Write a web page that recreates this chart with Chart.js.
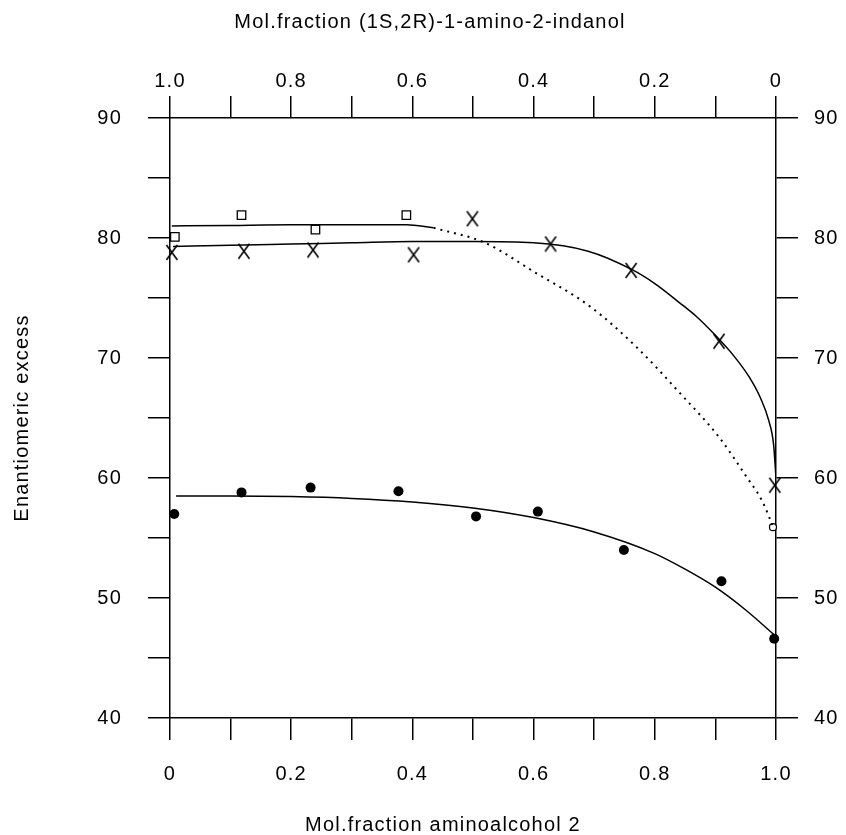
<!DOCTYPE html>
<html>
<head>
<meta charset="utf-8">
<script src="https://cdn.jsdelivr.net/npm/chart.js@4.4.1/dist/chart.umd.min.js"></script>
<style>
    html, body { margin: 0; padding: 0; background: #fff; }
</style>
</head>
<body>
<canvas id="chart" width="846" height="835"></canvas>
<script>
// measured points
const squareX = [0.008, 0.118, 0.240, 0.390];
const squareY = [80.1, 81.9, 80.7, 81.9];

const crossX = [0.003, 0.122, 0.236, 0.402, 0.499, 0.628, 0.761, 0.906, 0.998];
const crossY = [78.8, 78.9, 79.0, 78.6, 81.6, 79.5, 77.3, 71.4, 59.4];

const dotX = [0.007, 0.118, 0.232, 0.377, 0.505, 0.607, 0.749, 0.910, 0.997];
const dotY = [57.0, 58.8, 59.2, 58.9, 56.8, 57.2, 54.0, 51.4, 46.6];

const openCircleX = [0.995];
const openCircleY = [55.9];

// fitted curves
const squareFitX = [0.003, 0.1, 0.2, 0.3, 0.39, 0.435];
const squareFitY = [81.0, 81.05, 81.1, 81.1, 81.1, 80.85];

const dashedFitX = [0.435, 0.52, 0.6, 0.693, 0.77, 0.841, 0.906, 0.95, 0.977, 0.994];
const dashedFitY = [80.85, 79.6, 77.2, 74.3, 70.9, 67.1, 63.4, 60.2, 58.1, 56.1];

const crossFitX = [0.005, 0.1, 0.2, 0.3, 0.4, 0.5, 0.6, 0.69, 0.761, 0.8, 0.841, 0.87, 0.896, 0.93, 0.956, 0.975, 0.988, 0.996, 1.0];
const crossFitY = [79.3, 79.4, 79.5, 79.6, 79.7, 79.7, 79.6, 78.9, 77.4, 76.2, 74.6, 73.4, 72.1, 70.2, 68.4, 66.6, 64.8, 62.8, 60.0];

const dotFitX = [0.01, 0.1, 0.2, 0.3, 0.4, 0.5, 0.6, 0.7, 0.8, 0.85, 0.9, 0.95, 1.0];
const dotFitY = [58.5, 58.5, 58.45, 58.3, 58.0, 57.5, 56.7, 55.5, 53.7, 52.4, 50.9, 49.0, 46.8];

// axes
const xTickValues = [0, 0.1, 0.2, 0.3, 0.4, 0.5, 0.6, 0.7, 0.8, 0.9, 1.0];
const xLabelValues = [0, 0.2, 0.4, 0.6, 0.8, 1.0];
const xLabelText = ['0', '0.2', '0.4', '0.6', '0.8', '1.0'];
const yTickValues = [40, 45, 50, 55, 60, 65, 70, 75, 80, 85, 90];
const yLabelValues = [40, 50, 60, 70, 80, 90];
const yLabelText = ['40', '50', '60', '70', '80', '90'];

const bottomTitle = 'Mol.fraction aminoalcohol 2';
const topTitle = 'Mol.fraction (1S,2R)-1-amino-2-indanol';
const leftTitle = 'Enantiomeric excess';

const fontFamily = "'Liberation Sans', Arial, sans-serif";
Chart.defaults.font.family = fontFamily;
Chart.defaults.font.size = 20;
Chart.defaults.color = '#000';

function pts(xs, ys) {
    return xs.map((x, i) => ({ x: x, y: ys[i] }));
}

function labelFor(values, texts) {
    return function (value) {
        for (let i = 0; i < values.length; i++) {
            if (Math.abs(values[i] - value) < 1e-6) return texts[i];
        }
        return '';
    };
}

function setTicks(values) {
    return function (scale) {
        scale.ticks = values.map(v => ({ value: v }));
    };
}

// letter X marker
const xMark = document.createElement('canvas');
xMark.width = 14;
xMark.height = 17;
(function () {
    const c = xMark.getContext('2d');
    c.strokeStyle = '#000';
    c.lineWidth = 1.6;
    c.beginPath();
    c.moveTo(1.5, 1); c.lineTo(12.5, 16);
    c.moveTo(12.5, 1); c.lineTo(1.5, 16);
    c.stroke();
})();

const tickGrid = {
    display: true,
    drawOnChartArea: false,
    drawTicks: true,
    tickLength: 22,
    color: '#000',
    lineWidth: 1.5
};
const axisBorder = { display: true, color: '#000', width: 1.5 };

const textSpacing = {
    id: 'textSpacing',
    beforeDraw(chart) {
        chart.ctx.letterSpacing = '1.2px';
    },
    afterDraw(chart) {
        const ctx = chart.ctx;
        ctx.save();
        ctx.fillStyle = '#000';
        ctx.font = '20px ' + fontFamily;
        ctx.textAlign = 'center';
        ctx.textBaseline = 'middle';
        ctx.fillText(topTitle, 430, 22);
        ctx.fillText(bottomTitle, 443, 825);
        ctx.restore();
    }
};

new Chart(document.getElementById('chart'), {
    type: 'scatter',
    data: {
        datasets: [
            {
                data: pts(squareFitX, squareFitY),
                showLine: true,
                borderColor: '#000',
                borderWidth: 1.5,
                pointRadius: 0,
                cubicInterpolationMode: 'monotone'
            },
            {
                data: pts(dashedFitX, dashedFitY),
                showLine: true,
                borderColor: '#000',
                borderWidth: 2,
                borderDash: [2, 5],
                pointRadius: 0,
                cubicInterpolationMode: 'monotone'
            },
            {
                data: pts(crossFitX, crossFitY),
                showLine: true,
                borderColor: '#000',
                borderWidth: 1.5,
                pointRadius: 0,
                cubicInterpolationMode: 'monotone'
            },
            {
                data: pts(dotFitX, dotFitY),
                showLine: true,
                borderColor: '#000',
                borderWidth: 1.5,
                pointRadius: 0,
                cubicInterpolationMode: 'monotone'
            },
            {
                data: pts(squareX, squareY),
                pointStyle: 'rect',
                pointRadius: 6,
                backgroundColor: '#fff',
                borderColor: '#000',
                borderWidth: 1.3,
                clip: 12
            },
            {
                data: pts(crossX, crossY),
                pointStyle: xMark,
                clip: 12
            },
            {
                data: pts(dotX, dotY),
                pointStyle: 'circle',
                pointRadius: 5,
                backgroundColor: '#000',
                borderColor: '#000',
                borderWidth: 0,
                clip: 12
            },
            {
                data: pts(openCircleX, openCircleY),
                pointStyle: 'circle',
                pointRadius: 3.5,
                backgroundColor: '#fff',
                borderColor: '#000',
                borderWidth: 1.2,
                clip: 12
            }
        ]
    },
    options: {
        responsive: false,
        animation: false,
        layout: { padding: 0 },
        plugins: {
            legend: { display: false },
            tooltip: { enabled: false }
        },
        scales: {
            x: {
                type: 'linear',
                position: 'bottom',
                min: 0,
                max: 1,
                afterBuildTicks: setTicks(xTickValues),
                afterFit: s => { s.height = 117; },
                grid: tickGrid,
                border: axisBorder,
                ticks: { callback: labelFor(xLabelValues, xLabelText), padding: 22, autoSkip: false, maxRotation: 0 }
            },
            x2: {
                type: 'linear',
                position: 'top',
                reverse: true,
                min: 0,
                max: 1,
                afterBuildTicks: setTicks(xTickValues),
                afterFit: s => { s.height = 118; },
                grid: tickGrid,
                border: axisBorder,
                ticks: { callback: labelFor(xLabelValues, xLabelText), padding: 3, autoSkip: false, maxRotation: 0 }
            },
            y: {
                type: 'linear',
                position: 'left',
                min: 40,
                max: 90,
                afterBuildTicks: setTicks(yTickValues),
                afterFit: s => { s.width = 170; },
                grid: tickGrid,
                border: axisBorder,
                ticks: { callback: labelFor(yLabelValues, yLabelText), padding: 26, autoSkip: false },
                title: { display: true, text: leftTitle, font: { size: 20 }, padding: { top: 10, bottom: 0 } }
            },
            y2: {
                type: 'linear',
                position: 'right',
                min: 40,
                max: 90,
                afterBuildTicks: setTicks(yTickValues),
                afterFit: s => { s.width = 70; },
                grid: tickGrid,
                border: axisBorder,
                ticks: { callback: labelFor(yLabelValues, yLabelText), padding: 16, autoSkip: false }
            }
        }
    },
    plugins: [textSpacing]
});
</script>
</body>
</html>
